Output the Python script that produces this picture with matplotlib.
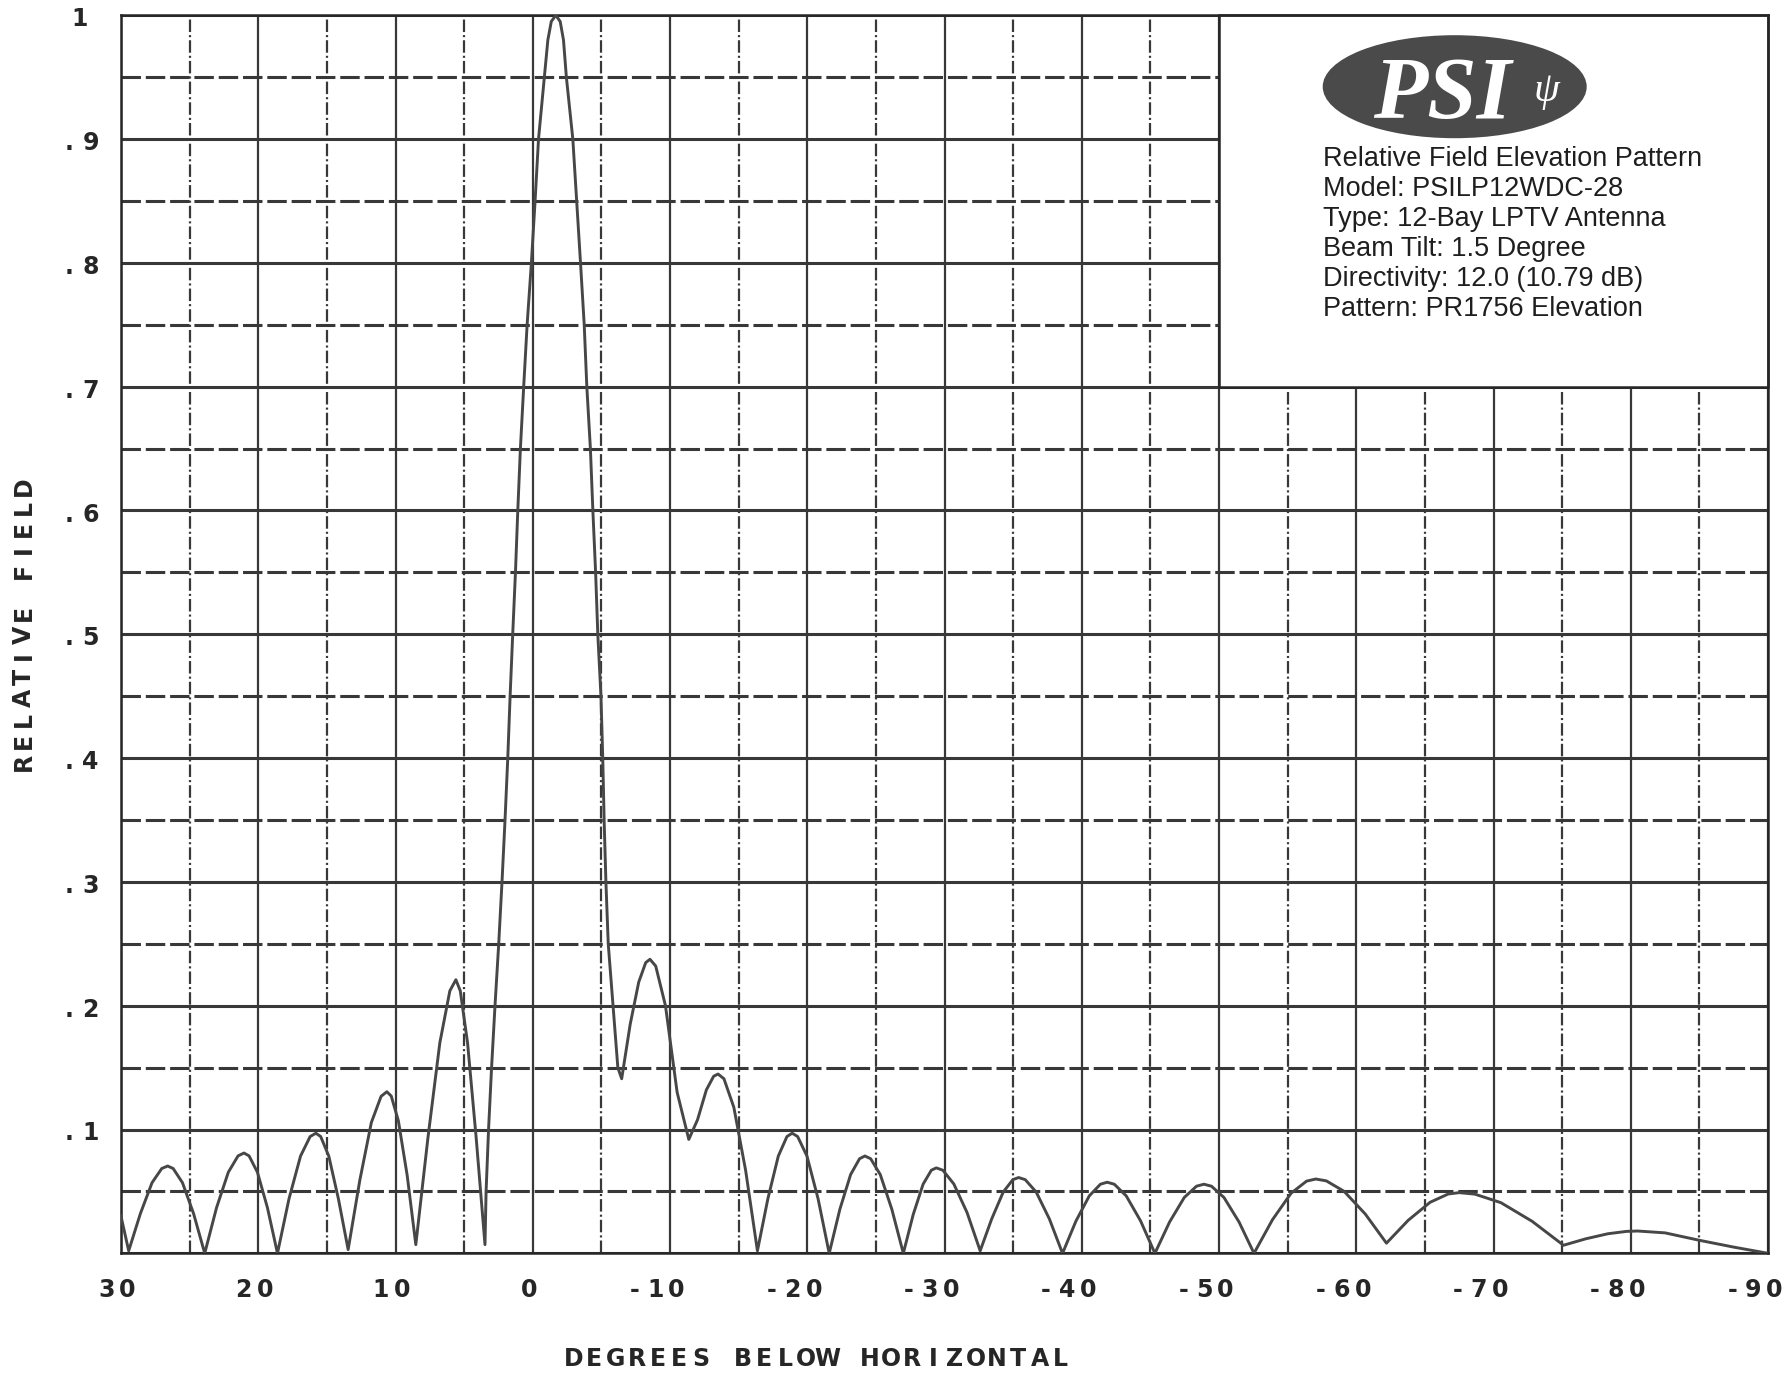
import matplotlib
matplotlib.use("Agg")
import matplotlib.pyplot as plt
from matplotlib.patches import Rectangle, Ellipse
from matplotlib import transforms
import numpy as np

# dash lengths given in points, not scaled by line width
plt.rcParams['lines.scale_dashes'] = False

# Elevation pattern (degrees below horizontal, relative field)
elev_deg = [30.0, 29.44, 28.59, 27.74, 27.03, 26.6, 26.2, 25.52, 24.71, 23.9,
            23.04, 22.18, 21.47, 21.04, 20.67, 20.06, 19.33, 18.6,
            17.76, 16.92, 16.22, 15.8, 15.45, 14.86, 14.16, 13.45,
            12.6, 11.76, 11.05, 10.63, 10.31, 9.79, 9.15, 8.52,
            7.64, 6.77, 6.04, 5.6, 5.28, 4.75, 4.12, 3.48,
            3.4, 3.22, 3.0, 2.75, 2.48, 2.24, 2.02, 1.82, 1.65, 1.46, 1.26,
            1.09, 0.9, 0.66, 0.41, 0.1, -0.17, -0.42, -0.84, -1.1, -1.35,
            -1.68, -2.0, -2.24, -2.45, -2.92, -3.2, -3.48, -3.75, -3.94,
            -4.2, -4.38, -4.58, -4.74, -4.97, -5.1, -5.2, -5.33, -5.5, -5.85,
            -6.2, -6.48,
            -7.1, -7.72, -8.23, -8.54, -8.96, -9.67, -10.52, -11.37,
            -12.01, -12.65, -13.18, -13.5, -13.93, -14.65, -15.51, -16.37,
            -17.13, -17.89, -18.52, -18.9, -19.3, -19.98, -20.79, -21.6,
            -22.38, -23.16, -23.81, -24.2, -24.62, -25.32, -26.16, -27.0,
            -27.72, -28.44, -29.04, -29.4, -29.88, -30.68, -31.64, -32.6,
            -33.44, -34.28, -34.98, -35.4, -35.88, -36.68, -37.64, -38.6,
            -39.58, -40.55, -41.36, -41.85, -42.37, -43.24, -44.29, -45.33,
            -46.4, -47.47, -48.36, -48.9, -49.45, -50.36, -51.46, -52.55,
            -53.9, -55.25, -56.38, -57.05, -57.82, -59.11, -60.66, -62.2,
            -63.79, -65.38, -66.7, -67.5, -68.64, -70.54, -72.82, -75.1,
            -76.72, -78.34, -79.69, -80.5, -82.5, -85.0, -87.5, -90.0]
rel_field = [0.030, 0.002, 0.032, 0.057, 0.0685, 0.0705, 0.0685, 0.057, 0.032, 0.0,
             0.0368, 0.0655, 0.0787, 0.081, 0.0787, 0.0655, 0.0368, 0.0,
             0.044, 0.0785, 0.0943, 0.097, 0.0943, 0.0785, 0.044, 0.003,
             0.059, 0.1056, 0.1268, 0.1305, 0.127, 0.107, 0.063, 0.007,
             0.093, 0.170, 0.212, 0.221, 0.212, 0.170, 0.093, 0.007,
             0.05, 0.10, 0.15, 0.20, 0.25, 0.30, 0.35, 0.40, 0.45, 0.50, 0.55,
             0.60, 0.65, 0.70, 0.75, 0.80, 0.85, 0.90, 0.95, 0.98, 0.995,
             1.0, 0.995, 0.98, 0.95, 0.90, 0.85, 0.80, 0.75, 0.70,
             0.65, 0.60, 0.55, 0.50, 0.45, 0.40, 0.35, 0.30, 0.25, 0.20,
             0.15, 0.141,
             0.185, 0.219, 0.2348, 0.2375, 0.232, 0.200, 0.13, 0.092,
             0.108, 0.132, 0.143, 0.1448, 0.141, 0.118, 0.067, 0.002,
             0.044, 0.0785, 0.0943, 0.097, 0.0943, 0.0785, 0.044, 0.0,
             0.0357, 0.0636, 0.0764, 0.0786, 0.0764, 0.0636, 0.0357, 0.0,
             0.0313, 0.0558, 0.0671, 0.069, 0.0671, 0.056, 0.033, 0.002,
             0.0278, 0.0495, 0.0595, 0.0612, 0.0595, 0.0495, 0.0278, 0.0,
             0.0261, 0.0464, 0.0558, 0.0574, 0.0558, 0.0464, 0.0261, 0.0,
             0.0253, 0.0451, 0.0542, 0.0558, 0.0542, 0.0451, 0.0253, 0.0,
             0.0272, 0.0485, 0.0583, 0.060, 0.0585, 0.0501, 0.0317, 0.0082,
             0.0267, 0.0412, 0.0479, 0.049, 0.0478, 0.0409, 0.0258, 0.0065,
             0.0117, 0.0158, 0.0177, 0.018, 0.0165, 0.0105, 0.005, 0.0]

x_ticks = [30, 20, 10, 0, -10, -20, -30, -40, -50, -60, -70, -80, -90]
x_tick_labels = ['30', '20', '10', '0', '-10', '-20', '-30', '-40', '-50',
                 '-60', '-70', '-80', '-90']
y_ticks = [0.1, 0.2, 0.3, 0.4, 0.5, 0.6, 0.7, 0.8, 0.9, 1.0]
y_tick_labels = ['.1', '.2', '.3', '.4', '.5', '.6', '.7', '.8', '.9', '1']

info_lines = ["Relative Field Elevation Pattern",
              "Model: PSILP12WDC-28",
              "Type: 12-Bay LPTV Antenna",
              "Beam Tilt: 1.5 Degree",
              "Directivity: 12.0 (10.79 dB)",
              "Pattern: PR1756 Elevation"]

W, H, DPI = 1786, 1373, 100
GRID = '#383838'
INK = '#262626'

fig = plt.figure(figsize=(W / DPI, H / DPI), dpi=DPI)
ax = fig.add_axes([121 / W, 1 - 1253.3 / H, (1768 - 121) / W, 1238 / H])

ax.plot(elev_deg, rel_field, color='#474747', lw=2.1, zorder=3,
        solid_joinstyle='round')
ax.set_xlim(30, -90)
ax.set_ylim(0, 1)

# grid: solid every 10 deg / 0.1, broken lines half way between
ax.set_xticks(x_ticks)
ax.set_xticks(np.arange(25, -90, -10), minor=True)
ax.set_yticks(np.arange(0, 1.01, 0.1))
ax.set_yticks(np.arange(0.05, 1.0, 0.1), minor=True)
ax.tick_params(which='both', length=0, labelbottom=False, labelleft=False)
ax.set_axisbelow(True)
ax.yaxis.grid(True, which='major', color=GRID, lw=2.2, ls='-')
ax.yaxis.grid(True, which='minor', color=GRID, lw=2.2, ls=(0, (14, 3.5)))
ax.xaxis.grid(True, which='major', color=GRID, lw=1.6, ls='-')
ax.xaxis.grid(True, which='minor', color=GRID, lw=1.6,
              ls=(0, (9, 2.2, 1.5, 2.2)))
for side in ['left', 'right', 'top', 'bottom']:
    ax.spines[side].set_color(INK)
    ax.spines[side].set_linewidth(1.8)

# info box in the upper right corner of the grid
ax.add_patch(Rectangle((-90, 0.70), 40, 0.30, facecolor='white',
                       edgecolor=INK, lw=1.8, zorder=2, clip_on=False))

for i, line in enumerate(info_lines):
    fig.text(1323 / W, 1 - (166 + 30 * i) / H, line, fontsize=19.5,
             family='Liberation Sans', color='#1e1e1e', va='baseline')

# PSI logo
fig.add_artist(Ellipse((1454.7 / W, 1 - 86.7 / H), 264 / W, 103 / H,
                       transform=fig.transFigure, facecolor='#4a4a4a',
                       edgecolor='none', zorder=5))
fig.text(1442 / W, 1 - 118 / H, 'PSI', fontsize=64, family='Liberation Serif',
         weight='bold', style='italic', color='white', ha='center',
         va='baseline', zorder=6)
fig.text(1546 / W, 1 - 91 / H, '\u03c8', fontsize=30, family='Liberation Serif',
         style='italic', color='white', ha='center', va='center', zorder=6)

# pen-plotter style lettering: one glyph per fixed-width cell
PITCH = 21.2
LBL = dict(family='DejaVu Sans', fontsize=17, weight='bold', color=INK)


def spaced(x, y, text, trans, centre, dx=0.0, dy=0.0, vertical=False):
    for i, ch in enumerate(text):
        step = (i - centre) * PITCH
        if vertical:
            off = transforms.ScaledTranslation(dx / DPI, (dy + step) / DPI,
                                               fig.dpi_scale_trans)
        else:
            off = transforms.ScaledTranslation((dx + step) / DPI, dy / DPI,
                                               fig.dpi_scale_trans)
        fig.text(x, y, ch, transform=trans + off, ha='center', va='center',
                 rotation=90 if vertical else 0, **LBL)


xtrans = transforms.blended_transform_factory(ax.transData, ax.transAxes)
for xv, lab in zip(x_ticks, x_tick_labels):
    neg = lab.startswith('-')
    centre = (len(lab) - 1 + (1 if neg else 0)) / 2
    spaced(xv, -0.030, lab, xtrans, centre, dx=-4)

ytrans = transforms.blended_transform_factory(fig.transFigure, ax.transData)
for yv, lab in zip(y_ticks, y_tick_labels):
    spaced(80 / W, yv, lab, ytrans, (len(lab) - 1) / 2, dy=-4)

xlabel = 'DEGREES BELOW HORIZONTAL'
spaced(817 / W, 1 - 1359 / H, xlabel, fig.transFigure, (len(xlabel) - 1) / 2)
ylabel = 'RELATIVE FIELD'
spaced(24 / W, 1 - 624 / H, ylabel, fig.transFigure, (len(ylabel) - 1) / 2,
       vertical=True)

fig.savefig('out.png', dpi=DPI, facecolor='white')
